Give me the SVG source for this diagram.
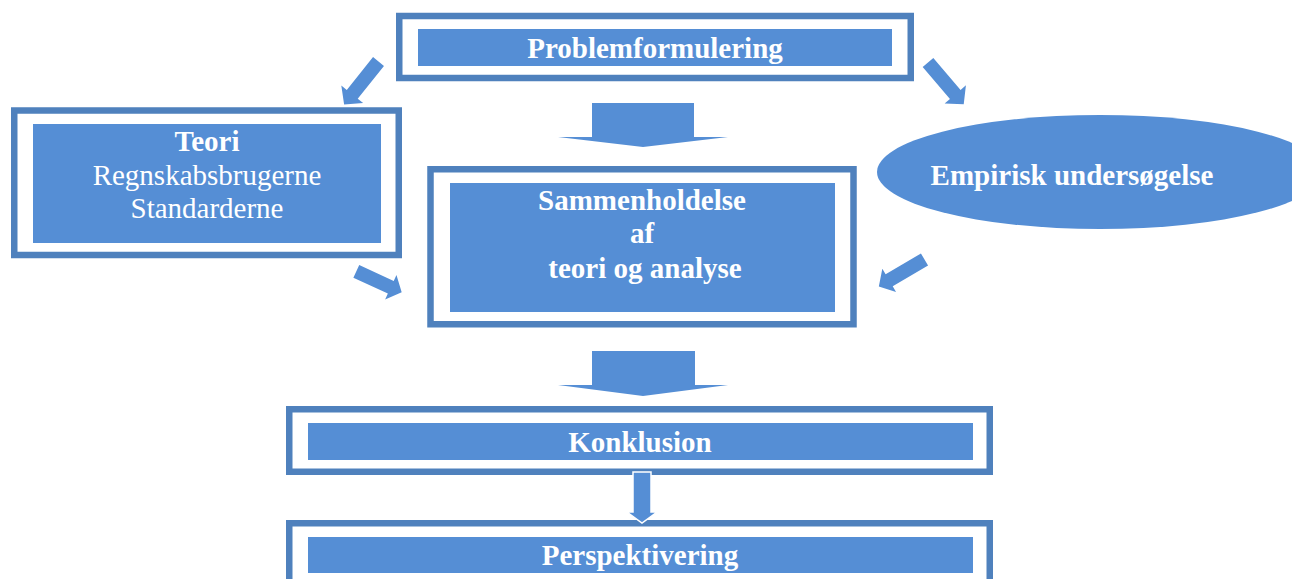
<svg xmlns="http://www.w3.org/2000/svg" width="1292" height="579" viewBox="0 0 1292 579">
<style>
.frame{fill:none;stroke:#4F81BD;stroke-width:6.5}
.fill{fill:#558ED5}
.arrow{fill:#558ED5}
.t{font-family:"Liberation Serif","Times New Roman",serif;font-size:29px;fill:#ffffff;text-anchor:middle}
.b{font-weight:bold}
</style>
<rect width="1292" height="579" fill="#ffffff"/>
<g id="connectors">
<polygon class="arrow" points="0,-7 42,-7 42,-14 55,0 42,14 42,7 0,7" transform="translate(378.5,61.5) rotate(128.7)"/>
<polygon class="arrow" points="0,-7 42,-7 42,-14 55,0 42,14 42,7 0,7" transform="translate(928,62.5) rotate(49.5)"/>
<polygon class="arrow" points="0,-7 38,-7 38,-13.5 50,0 38,13.5 38,7 0,7" transform="translate(356.3,271.3) rotate(24.8)"/>
<polygon class="arrow" points="0,-7 41,-7 41,-13.5 53,0 41,13.5 41,7 0,7" transform="translate(924.5,259.5) rotate(149.5)"/>
<polygon class="arrow" points="592,103 694,103 694,137 728,137 643,147 558,137 592,137"/>
<polygon class="arrow" points="592,351 695,351 695,385 728,385 643,396 558,385 592,385"/>
</g>
<g id="problemformulering">
<rect class="frame" x="399.25" y="16" width="511.5" height="62"/>
<rect class="fill" x="418" y="29" width="474" height="37"/>
<text class="t b" x="655" y="58">Problemformulering</text>
</g>
<g id="teori">
<rect class="frame" x="14.25" y="110.5" width="384.5" height="144.5"/>
<rect class="fill" x="33" y="124" width="348" height="119"/>
<text class="t b" x="207" y="151">Teori</text>
<text class="t" x="207" y="185">Regnskabsbrugerne</text>
<text class="t" x="207" y="218">Standarderne</text>
</g>
<g id="empirisk">
<ellipse class="fill" cx="1100" cy="172" rx="223" ry="57"/>
<text class="t b" x="1072" y="185">Empirisk undersøgelse</text>
</g>
<g id="sammenholdelse">
<rect class="frame" x="430.5" y="169.25" width="423" height="155"/>
<rect class="fill" x="450" y="183" width="385" height="129"/>
<text class="t b" x="642" y="210">Sammenholdelse</text>
<text class="t b" x="642" y="243">af</text>
<text class="t b" x="645" y="278">teori og analyse</text>
</g>
<g id="konklusion">
<rect class="frame" x="289.25" y="409.25" width="700.5" height="62.5"/>
<rect class="fill" x="308" y="423" width="665" height="37"/>
<text class="t b" x="640" y="452">Konklusion</text>
</g>
<g id="perspektivering">
<rect class="frame" x="289.25" y="523.25" width="700.5" height="70"/>
<rect class="fill" x="308" y="537" width="665" height="36"/>
<text class="t b" x="640" y="565">Perspektivering</text>
</g>
<g id="connector-small">
<polygon class="arrow" points="633,472 651,472 651,512 657,512 642,523 627,512 633,512" stroke="#ffffff" stroke-width="1.5"/>
</g>
</svg>
